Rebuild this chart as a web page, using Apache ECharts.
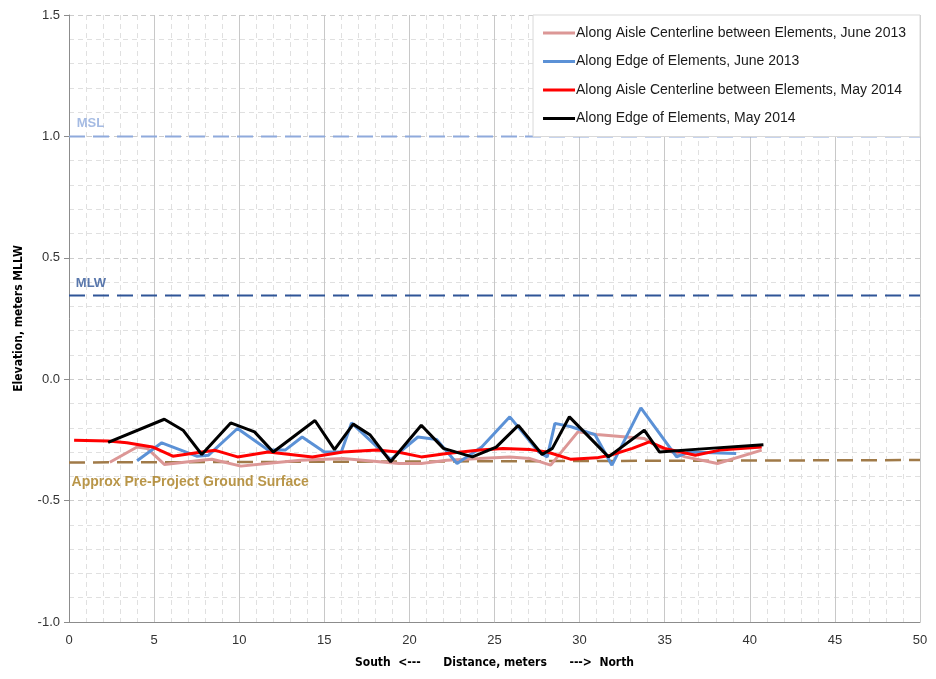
<!DOCTYPE html>
<html>
<head>
<meta charset="utf-8">
<script src="https://cdn.jsdelivr.net/npm/echarts@6/dist/echarts.min.js"></script>
<style>
html,body{margin:0;padding:0;background:#fff;}
#chart{width:936px;height:679px;}
</style>
</head>
<body>
<div id="chart"></div>
<script>
// ---- data ----
const seriesNames = [
  'Along Aisle Centerline between Elements, June 2013',
  'Along Edge of Elements, June 2013',
  'Along Aisle Centerline between Elements, May 2014',
  'Along Edge of Elements, May 2014'
];
const pinkX = [2.4, 4.0, 4.6, 5.6, 7.8, 8.4, 10.1, 11.9, 13.6, 16.1, 19.4, 20.7, 22.2, 24.1, 25.9, 27.1, 28.3, 29.9, 31.0, 33.8, 34.6, 36.2, 38.1, 40.7];
const pinkY = [-0.342, -0.279, -0.285, -0.351, -0.334, -0.33, -0.358, -0.345, -0.334, -0.327, -0.347, -0.347, -0.334, -0.327, -0.32, -0.327, -0.354, -0.217, -0.228, -0.244, -0.279, -0.32, -0.347, -0.292];
const blueX = [4.0, 5.45, 7.5, 8.2, 9.9, 11.7, 12.7, 13.7, 15.0, 16.0, 16.6, 18.9, 20.5, 21.6, 22.8, 24.25, 25.9, 27.6, 28.1, 28.55, 29.5, 30.9, 31.9, 33.6, 35.7, 36.4, 39.2];
const blueY = [-0.336, -0.262, -0.317, -0.313, -0.203, -0.292, -0.292, -0.238, -0.30, -0.30, -0.18, -0.331, -0.238, -0.248, -0.347, -0.279, -0.155, -0.30, -0.32, -0.182, -0.196, -0.228, -0.354, -0.118, -0.32, -0.30, -0.306];
const redX = [0.3, 2.3, 3.4, 4.9, 6.1, 7.8, 8.6, 9.9, 11.7, 14.3, 16.1, 18.1, 19.3, 20.7, 22.2, 24.15, 25.5, 27.1, 28.1, 29.5, 31.0, 31.8, 33.1, 34.1, 35.0, 36.8, 38.25, 40.7];
const redY = [-0.251, -0.255, -0.262, -0.279, -0.317, -0.30, -0.293, -0.32, -0.30, -0.32, -0.30, -0.292, -0.30, -0.32, -0.306, -0.292, -0.285, -0.29, -0.30, -0.33, -0.324, -0.313, -0.285, -0.258, -0.285, -0.313, -0.292, -0.279];
const blackX = [2.3, 5.6, 6.7, 7.8, 9.5, 10.9, 12.0, 14.45, 15.6, 16.7, 17.7, 18.9, 20.7, 22.0, 23.7, 25.1, 26.4, 27.8, 28.4, 29.4, 31.7, 33.8, 34.7, 37.0, 40.8];
const blackY = [-0.26, -0.165, -0.21, -0.31, -0.18, -0.217, -0.30, -0.17, -0.29, -0.185, -0.23, -0.34, -0.19, -0.285, -0.32, -0.28, -0.19, -0.31, -0.285, -0.155, -0.32, -0.21, -0.30, -0.288, -0.27];

// reference levels
const refX = [0, 50];
const mslY = [1.0, 1.0];
const mlwY = [0.345, 0.345];
const groundY = [-0.343, -0.333];
const refLabels = ['MSL', 'MLW', 'Approx Pre-Project Ground Surface'];
const refLabelX = [0.45, 0.4, 0.15];
const refLabelY = [1.055, 0.395, -0.425];

// axes
const xMin = 0, xMax = 50, xStep = 5;
const yMin = -1.0, yMax = 1.5, yStep = 0.5;

const zip = (xs, ys) => xs.map((x, i) => [x, ys[i]]);

const FONT = 'Liberation Sans';
const chart = echarts.init(document.getElementById('chart'), null, {renderer: 'canvas'});

function dataLine(name, xs, ys, color, z) {
  return {
    name, type: 'line', data: zip(xs, ys), showSymbol: false, symbol: 'none',
    lineStyle: {color, width: 3}, itemStyle: {color}, z, animation: false
  };
}
function refLine(xs, ys, color, width) {
  return {
    type: 'line', data: zip(xs, ys), showSymbol: false, symbol: 'none', silent: true,
    lineStyle: {color, width, type: [16, 8]}, z: 1, animation: false
  };
}
const refColors = ['#8faadc', '#2f5597', '#a87c1c'];

chart.setOption({
  animation: false,
  backgroundColor: '#fff',
  textStyle: {fontFamily: FONT},
  grid: {left: 69, right: 16, top: 15, bottom: 57},
  legend: {
    data: seriesNames,
    orient: 'vertical',
    right: 16, top: 15,
    padding: [10, 14, 10, 10],
    backgroundColor: '#fff',
    borderColor: '#d9d9d9', borderWidth: 1,
    icon: 'rect', itemWidth: 32, itemHeight: 3, itemGap: 12.5,
    textStyle: {fontFamily: FONT, fontSize: 14, color: '#1a1a1a', lineHeight: 16, padding: [0, 0, 0, -4]},
    z: 10
  },
  xAxis: {
    type: 'value', min: xMin, max: xMax, interval: xStep,
    name: 'South  <---      Distance, meters      --->  North',
    nameLocation: 'middle', nameGap: 35,
    nameTextStyle: {fontFamily: 'DejaVu Sans Condensed', fontWeight: 'bold', fontSize: 12, color: '#000'},
    axisLine: {show: true, onZero: false, lineStyle: {color: '#8c8c8c', width: 1}},
    axisTick: {show: false},
    axisLabel: {color: '#333', fontSize: 13, margin: 12, fontFamily: FONT},
    splitLine: {show: true, lineStyle: {color: '#c8c8c8', width: 1}},
    minorTick: {show: false, splitNumber: 5},
    minorSplitLine: {show: true, lineStyle: {color: '#e0e0e0', width: 1, type: [5, 4]}}
  },
  yAxis: {
    type: 'value', min: yMin, max: yMax, interval: yStep,
    name: 'Elevation, meters MLLW',
    nameLocation: 'middle', nameGap: 44,
    nameTextStyle: {fontFamily: 'DejaVu Sans Condensed', fontWeight: 'bold', fontSize: 12, color: '#000'},
    axisLine: {show: true, onZero: false, lineStyle: {color: '#8c8c8c', width: 1}},
    axisTick: {show: true, length: 5, lineStyle: {color: '#8c8c8c'}},
    axisLabel: {color: '#333', fontSize: 13, margin: 9, fontFamily: FONT,
      formatter: v => v.toFixed(1)},
    splitLine: {show: true, lineStyle: {color: '#cccccc', width: 1, type: [5, 4]}},
    minorTick: {show: false, splitNumber: 5},
    minorSplitLine: {show: true, lineStyle: {color: '#e0e0e0', width: 1, type: [5, 4]}}
  },
  series: [
    refLine(refX, mslY, refColors[0], 2),
    refLine(refX, mlwY, refColors[1], 2),
    refLine(refX, groundY, '#a07a48', 2.5),
    {
      type: 'scatter', silent: true, symbolSize: 0, z: 2,
      data: refLabels.map((t, i) => ({
        value: [refLabelX[i], refLabelY[i]],
        label: {show: true, formatter: t, position: 'right', distance: 0,
          color: refColors[i], fontWeight: 'bold', fontSize: i === 2 ? 14 : 13, fontFamily: FONT}
      }))
    },
    dataLine(seriesNames[0], pinkX, pinkY, '#dc9796', 3),
    dataLine(seriesNames[1], blueX, blueY, '#5b91d6', 4),
    dataLine(seriesNames[2], redX, redY, '#ff0000', 5),
    dataLine(seriesNames[3], blackX, blackY, '#000000', 6)
  ]
});
</script>
</body>
</html>
